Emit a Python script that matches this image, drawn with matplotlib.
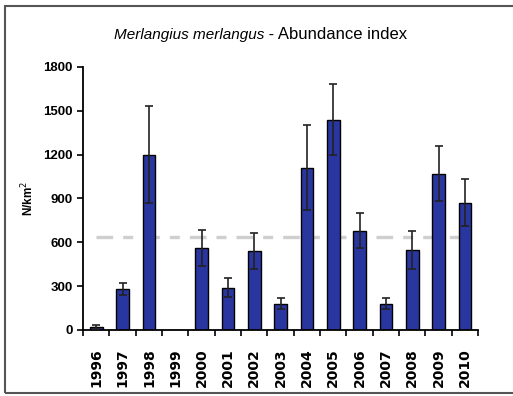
import matplotlib.pyplot as plt
from matplotlib.patches import Rectangle

plt.rcParams['font.family'] = ['Liberation Sans', 'DejaVu Sans']

# abundance index data
years = ['1996', '1997', '1998', '1999', '2000', '2001', '2002', '2003',
         '2004', '2005', '2006', '2007', '2008', '2009', '2010']
abundance = [18, 280, 1200, 0, 560, 290, 540, 180, 1110, 1440, 680, 180, 550, 1070, 870]
errors = [12, 40, 330, 0, 125, 65, 125, 35, 290, 245, 120, 35, 130, 190, 160]
mean_line = 635

fig = plt.figure(figsize=(5.13, 3.96), dpi=100)
ax = fig.add_axes([0.162, 0.167, 0.770, 0.664])

x = list(range(len(years)))
ax.bar(x, abundance, width=0.48, color='#2A36A0', edgecolor='black', linewidth=1.0, zorder=2)
ax.errorbar([i for i in x if years[i] != '1999'],
            [abundance[i] for i in x if years[i] != '1999'],
            yerr=[errors[i] for i in x if years[i] != '1999'],
            fmt='none', ecolor='#222222', elinewidth=1.2, capsize=3, capthick=1.2, zorder=3)

# long mean line (grey dash)
ax.plot([-0.0, len(years) - 1.2], [mean_line, mean_line], color='#CFCFCF',
        linewidth=2.4, dashes=(5, 3, 3, 3), zorder=1)

ax.set_xlim(-0.5, len(years) - 0.5)
ax.set_ylim(0, 1800)
ax.set_yticks(range(0, 1801, 300))
ax.tick_params(axis='y', labelsize=9.5, length=4, width=1.2, direction='out')

# category ticks between bars, labels centred
ax.set_xticks([i - 0.5 for i in range(len(years) + 1)])
ax.set_xticklabels([])
ax.set_xticks(x, minor=True)
ax.set_xticklabels(years, minor=True, rotation=90, fontsize=10,
                   fontweight='bold', family='DejaVu Sans')
ax.tick_params(axis='x', which='major', length=4, width=1.2, direction='out')
ax.tick_params(axis='x', which='minor', length=0, pad=13)
for lab in ax.get_yticklabels():
    lab.set_fontweight('bold')

ax.spines['top'].set_visible(False)
ax.spines['right'].set_visible(False)
ax.spines['left'].set_linewidth(1.3)
ax.spines['bottom'].set_linewidth(1.3)

ax.set_ylabel('N/km$^2$', fontsize=8.5, fontweight='bold', labelpad=5)

fig.text(0.515, 0.912, 'Merlangius merlangus', ha='right', va='center',
         fontsize=11, style='italic')
fig.text(0.515, 0.912, ' - Abundance index', ha='left', va='center', fontsize=12)

# outer frame of the figure
fig.patches.append(Rectangle((0.01, 0.008), 1.2, 0.978, transform=fig.transFigure,
                             fill=False, edgecolor='#555555', linewidth=1.5))

plt.savefig('out.png', dpi=100)
